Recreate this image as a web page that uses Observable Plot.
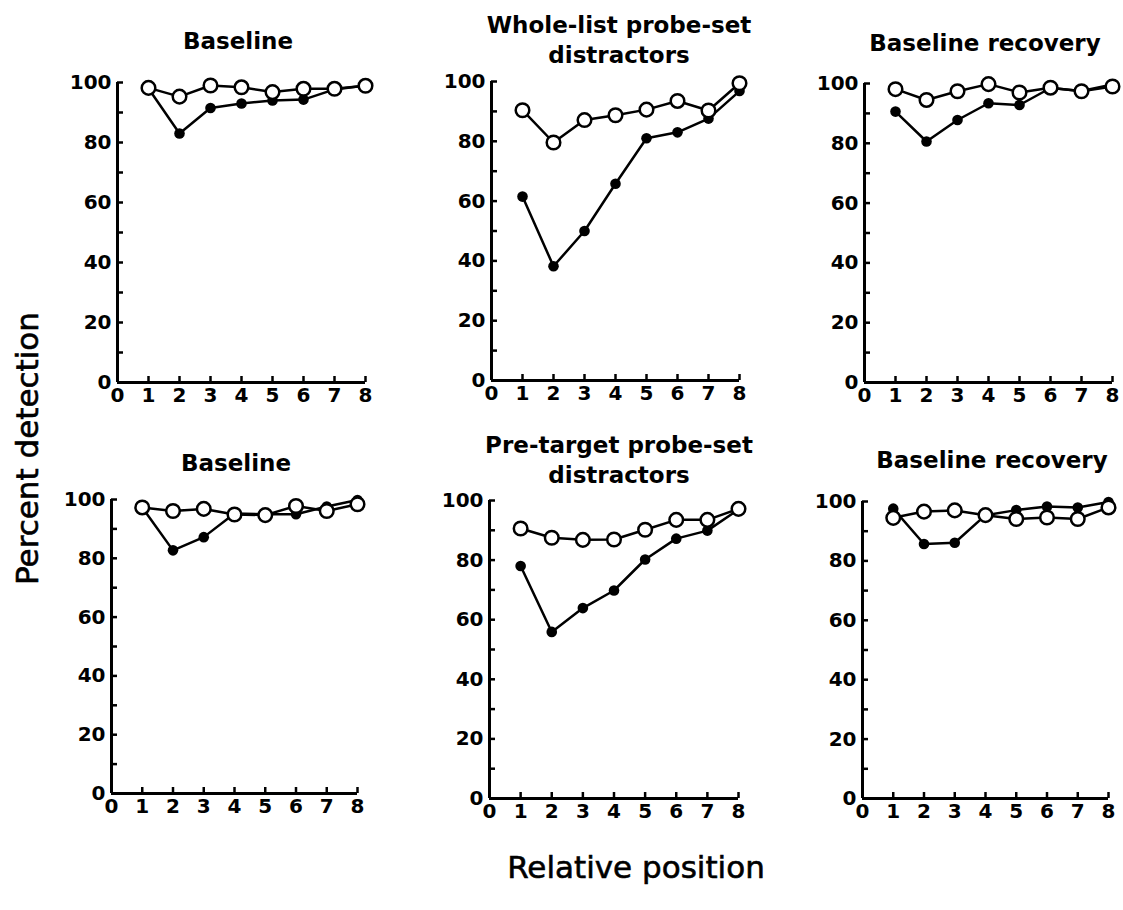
<!DOCTYPE html>
<html>
<head>
<meta charset="utf-8">
<script src="https://cdn.jsdelivr.net/npm/d3@7"></script>
<script src="https://cdn.jsdelivr.net/npm/@observablehq/plot@0.6"></script>
<style>
  html, body { margin: 0; padding: 0; background: white; }
  #chart { position: relative; width: 1123px; height: 910px; background: white; overflow: hidden; }
  #chart svg text { font-family: "DejaVu Sans", sans-serif !important; font-size: 20px !important; font-weight: bold !important; fill: black; }
  .title { position: absolute; text-align: center; font-family: "DejaVu Sans", sans-serif; font-weight: bold; font-size: 23px; line-height: 30px; color: black; white-space: nowrap; }
  .axlab { position: absolute; font-family: "DejaVu Sans", sans-serif; font-size: 31px; color: black; white-space: nowrap; -webkit-text-stroke: 0.6px black; }
</style>
</head>
<body>
<div id="chart"></div>
<script>
// ---- data ----
const positions = [1, 2, 3, 4, 5, 6, 7, 8];
const xTickLabels = [0, 1, 2, 3, 4, 5, 6, 7, 8];
const yTickLabels = [0, 20, 40, 60, 80, 100];
const yMinorTicks = [0, 10, 20, 30, 40, 50, 60, 70, 80, 90, 100];

const titles = [
  ["Baseline"],
  ["Whole-list probe-set", "distractors"],
  ["Baseline recovery"],
  ["Baseline"],
  ["Pre-target probe-set", "distractors"],
  ["Baseline recovery"]
];

// filled circles
const filled1 = [98, 83, 91.5, 93, 94, 94.3, 97.7, 99];
const filled2 = [61.5, 38.2, 50, 65.8, 81, 83, 87.6, 96.8];
const filled3 = [90.6, 80.6, 87.8, 93.4, 92.8, 98.5, 97.5, 99.7];
const filled4 = [97.3, 82.7, 87.2, 95.2, 95, 95, 97.6, 99.8];
const filled5 = [78, 55.9, 63.9, 69.8, 80.2, 87.2, 89.9, 97];
const filled6 = [97.6, 85.7, 86.1, 95.4, 97.1, 98.3, 98, 99.8];

// open circles
const open1 = [98.2, 95.3, 99, 98.4, 96.8, 97.9, 97.9, 98.9];
const open2 = [90.4, 79.6, 87.1, 88.7, 90.6, 93.5, 90.3, 99.4];
const open3 = [98.1, 94.5, 97.4, 99.8, 97, 98.6, 97.4, 99];
const open4 = [97.3, 96.1, 96.8, 94.9, 94.7, 97.8, 96.1, 98.4];
const open5 = [90.6, 87.5, 86.8, 86.9, 90.2, 93.5, 93.5, 97.2];
const open6 = [94.5, 96.6, 97, 95.4, 94.1, 94.6, 94.1, 98];

const filledSeries = [filled1, filled2, filled3, filled4, filled5, filled6];
const openSeries = [open1, open2, open3, open4, open5, open6];

// ---- layout ----
const panels = [
  { left: 117, top: 82,  w: 248, h: 300, tx: 238, tb: 49 },
  { left: 491, top: 81,  w: 248, h: 299, tx: 619, tb: 33 },
  { left: 864, top: 83,  w: 248, h: 299, tx: 985, tb: 51 },
  { left: 111, top: 499, w: 246, h: 294, tx: 236, tb: 471 },
  { left: 489, top: 500, w: 249, h: 298, tx: 619, tb: 453 },
  { left: 862, top: 501, w: 246, h: 297, tx: 992, tb: 468 }
];

const ML = 56, MR = 14, MT = 12, MB = 32;
const chart = document.getElementById("chart");
const FONT = "DejaVu Sans, sans-serif";

panels.forEach((p, i) => {
  const filledData = positions.map((x, j) => ({ x, y: filledSeries[i][j] }));
  const openData = positions.map((x, j) => ({ x, y: openSeries[i][j] }));
  const plot = Plot.plot({
    width: ML + p.w + MR,
    height: MT + p.h + MB,
    marginLeft: ML, marginRight: MR, marginTop: MT, marginBottom: MB,
    x: { domain: [0, 8], label: null },
    y: { domain: [0, 100], label: null },
    style: { fontFamily: FONT, fontWeight: "bold", fontSize: "20px", color: "black", background: "transparent", overflow: "visible" },
    marks: [
      Plot.axisY(yMinorTicks, { tickSize: 6, dx: 6, text: null, strokeWidth: 2.5, label: null }),
      Plot.axisY(yTickLabels, { tickSize: 0, tickPadding: 6, fontSize: 20, fontWeight: "bold", label: null }),
      Plot.axisX(positions, { tickSize: 6, dy: -6, text: null, strokeWidth: 2.5, label: null }),
      Plot.axisX(xTickLabels, { tickSize: 0, tickPadding: 5, fontSize: 20, fontWeight: "bold", label: null }),
      Plot.ruleY([0], { stroke: "black", strokeWidth: 3 }),
      Plot.ruleX([0], { stroke: "black", strokeWidth: 3 }),
      Plot.line(filledData, { x: "x", y: "y", stroke: "black", strokeWidth: 2.5 }),
      Plot.dot(filledData, { x: "x", y: "y", r: 5.3, fill: "black", stroke: "none" }),
      Plot.line(openData, { x: "x", y: "y", stroke: "black", strokeWidth: 2.5 }),
      Plot.dot(openData, { x: "x", y: "y", r: 6.8, fill: "white", stroke: "black", strokeWidth: 2.5 })
    ]
  });
  plot.style.position = "absolute";
  plot.style.left = (p.left - ML) + "px";
  plot.style.top = (p.top - MT) + "px";
  plot.style.maxWidth = "none";
  chart.appendChild(plot);

  const t = document.createElement("div");
  t.className = "title";
  t.style.width = "340px";
  t.style.left = (p.tx - 170) + "px";
  t.style.top = (p.tb - 23) + "px";
  t.innerHTML = titles[i].join("<br>");
  chart.appendChild(t);
});

// axis titles
const xl = document.createElement("div");
xl.className = "axlab";
xl.textContent = "Relative position";
xl.style.left = "0px";
xl.style.width = "1272px";
xl.style.textAlign = "center";
xl.style.top = (880 - 32) + "px";
xl.style.lineHeight = "38px";
chart.appendChild(xl);

const yl = document.createElement("div");
yl.className = "axlab";
yl.textContent = "Percent detection";
yl.style.left = "0px";
yl.style.top = "0px";
yl.style.lineHeight = "38px";
yl.style.transformOrigin = "0 0";
yl.style.transform = "translate(8px, 585px) rotate(-90deg)";
chart.appendChild(yl);
</script>
</body>
</html>
